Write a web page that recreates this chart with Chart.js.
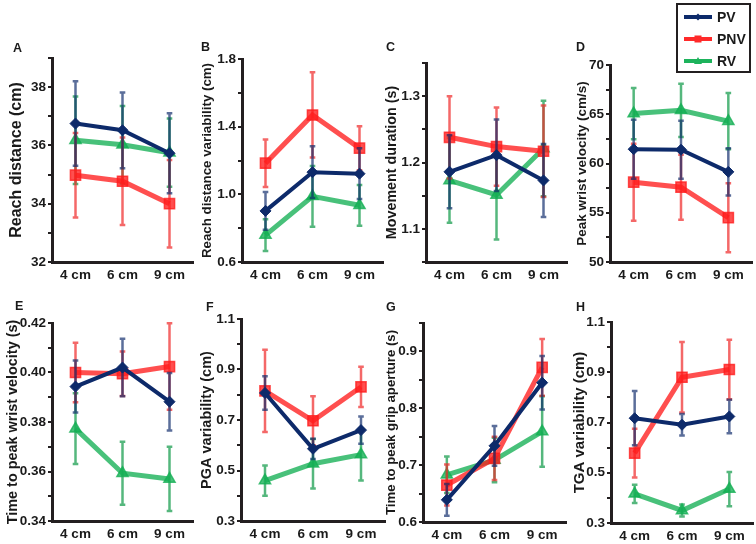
<!DOCTYPE html>
<html>
<head>
<meta charset="utf-8">
<script src="https://cdn.jsdelivr.net/npm/chart.js@4"></script>
<style>
  body { margin: 0; background: #fff; }
  #wrap { position: relative; width: 756px; height: 544px; overflow: hidden; font-family: "Liberation Sans", Arial, sans-serif; color: #1a1a1a; }
  .letter { position: absolute; font-weight: bold; font-size: 12.5px; line-height: 1; }
  #legend { position: absolute; left: 676px; top: 3px; width: 71px; height: 66px; border: 2.5px solid #231f20; }
  .row { position: absolute; left: 6px; height: 14px; display: flex; align-items: center; }
  .row span { font-weight: bold; font-size: 14px; margin-left: 5px; }
</style>
</head>
<body>
<div id="wrap"></div>
<script>
const categories = ['4 cm', '6 cm', '9 cm'];

// A: reach distance
const reachPV = [36.75, 36.52, 35.73];
const reachPVErr = [1.45, 1.3, 1.37];
const reachPNV = [34.98, 34.77, 34.0];
const reachPNVErr = [1.45, 1.5, 1.5];
const reachRV = [36.18, 36.02, 35.75];
const reachRVErr = [1.5, 1.33, 1.17];
const reachTicks = ['32', '34', '36', '38'];

// B: reach distance variability
const reachVarPV = [0.902, 1.131, 1.122];
const reachVarPVErr = [0.112, 0.153, 0.15];
const reachVarPNV = [1.184, 1.469, 1.273];
const reachVarPNVErr = [0.14, 0.252, 0.13];
const reachVarRV = [0.759, 0.988, 0.935];
const reachVarRVErr = [0.094, 0.18, 0.12];
const reachVarTicks = ['0.6', '1.0', '1.4', '1.8'];

// C: movement duration
const durPV = [1.186, 1.211, 1.173];
const durPVErr = [0.055, 0.054, 0.055];
const durPNV = [1.238, 1.224, 1.217];
const durPNVErr = [0.062, 0.059, 0.069];
const durRV = [1.173, 1.151, 1.221];
const durRVErr = [0.064, 0.067, 0.072];
const durTicks = ['1.1', '1.2', '1.3'];

// D: peak wrist velocity
const velPV = [61.45, 61.4, 59.15];
const velPVErr = [3.0, 2.95, 2.4];
const velPNV = [58.1, 57.6, 54.5];
const velPNVErr = [3.9, 3.3, 3.5];
const velRV = [65.07, 65.4, 64.3];
const velRVErr = [2.6, 2.7, 2.85];
const velTicks = ['50', '55', '60', '65', '70'];

// E: time to peak wrist velocity
const tpvPV = [0.3943, 0.402, 0.3882];
const tpvPVErr = [0.0105, 0.0116, 0.0116];
const tpvPNV = [0.400, 0.3995, 0.4024];
const tpvPNVErr = [0.012, 0.009, 0.0175];
const tpvRV = [0.3773, 0.3593, 0.357];
const tpvRVErr = [0.0143, 0.0127, 0.013];
const tpvTicks = ['0.34', '0.36', '0.38', '0.40', '0.42'];

// F: PGA variability
const pgaPV = [0.807, 0.586, 0.66];
const pgaPVErr = [0.066, 0.04, 0.054];
const pgaPNV = [0.815, 0.697, 0.831];
const pgaPNVErr = [0.163, 0.097, 0.08];
const pgaRV = [0.46, 0.527, 0.563];
const pgaRVErr = [0.06, 0.098, 0.103];
const pgaTicks = ['0.3', '0.5', '0.7', '0.9', '1.1'];

// G: time to peak grip aperture
const tpgPV = [0.639, 0.734, 0.845];
const tpgPVErr = [0.028, 0.035, 0.047];
const tpgPNV = [0.665, 0.712, 0.872];
const tpgPNVErr = [0.036, 0.038, 0.05];
const tpgRV = [0.683, 0.709, 0.759];
const tpgRVErr = [0.032, 0.039, 0.062];
const tpgTicks = ['0.6', '0.7', '0.8', '0.9'];

// H: TGA variability
const tgaPV = [0.717, 0.691, 0.724];
const tgaPVErr = [0.108, 0.043, 0.067];
const tgaPNV = [0.578, 0.880, 0.911];
const tgaPNVErr = [0.097, 0.14, 0.118];
const tgaRV = [0.416, 0.35, 0.435];
const tgaRVErr = [0.036, 0.024, 0.068];
const tgaTicks = ['0.3', '0.5', '0.7', '0.9', '1.1'];

const FONT = '"Liberation Sans", Arial, sans-serif';
const AXIS = '#231f20';
const TEXT = '#1a1a1a';

const PV_COL = '#0d2a6a';
const PNV_COL = 'rgba(255,30,30,0.78)';
const RV_COL = 'rgba(20,175,85,0.78)';

Chart.defaults.font.family = FONT;

// draws each dataset's error bars just before its line
const errorBars = {
  id: 'errorBars',
  beforeDatasetDraw(chart, args) {
    const ds = chart.data.datasets[args.index];
    if (!ds.errors) return;
    const y = chart.scales.y;
    const ctx = chart.ctx;
    ctx.save();
    ctx.strokeStyle = ds.errorColor;
    ctx.lineWidth = 2.5;
    args.meta.data.forEach((pt, i) => {
      const top = y.getPixelForValue(ds.data[i] + ds.errors[i]);
      const bot = y.getPixelForValue(ds.data[i] - ds.errors[i]);
      ctx.beginPath();
      ctx.moveTo(pt.x, top); ctx.lineTo(pt.x, bot);
      ctx.moveTo(pt.x - 2.8, top); ctx.lineTo(pt.x + 2.8, top);
      ctx.moveTo(pt.x - 2.8, bot); ctx.lineTo(pt.x + 2.8, bot);
      ctx.stroke();
    });
    ctx.restore();
  }
};

const panels = [
  { id: 'A', title: 'Reach distance (cm)', tSize: 16, tPad: 7.4,
    pv: reachPV, pvErr: reachPVErr, pnv: reachPNV, pnvErr: reachPNVErr, rv: reachRV, rvErr: reachRVErr,
    ticks: reachTicks, min: 32, max: 39, step: 1,
    x0: 0, y0: 30, y1: 290, l: 52, t: 58, r: 193, b: 262, lx: 13, ly: 42 },
  { id: 'B', title: 'Reach distance variability (cm)', tSize: 13.3, tPad: 9,
    pv: reachVarPV, pvErr: reachVarPVErr, pnv: reachVarPNV, pnvErr: reachVarPNVErr, rv: reachVarRV, rvErr: reachVarRVErr,
    ticks: reachVarTicks, min: 0.6, max: 1.8, step: 0.2,
    x0: 190, y0: 30, y1: 290, l: 242, t: 59, r: 383, b: 262, lx: 201, ly: 41 },
  { id: 'C', title: 'Movement duration (s)', tSize: 14.3, tPad: 9.4,
    pv: durPV, pvErr: durPVErr, pnv: durPNV, pnvErr: durPNVErr, rv: durRV, rvErr: durRVErr,
    ticks: durTicks, min: 1.05, max: 1.35, step: 0.05,
    x0: 374, y0: 30, y1: 290, l: 426, t: 63, r: 567, b: 262, lx: 386, ly: 41 },
  { id: 'D', title: 'Peak wrist velocity (cm/s)', tSize: 13.5, tPad: 15.9,
    pv: velPV, pvErr: velPVErr, pnv: velPNV, pnvErr: velPNVErr, rv: velRV, rvErr: velRVErr,
    ticks: velTicks, min: 50, max: 70, step: 2.5,
    x0: 558, y0: 30, y1: 290, l: 610, t: 65, r: 752, b: 262, lx: 576, ly: 41 },
  { id: 'E', title: 'Time to peak wrist velocity (s)', tSize: 14.4, tPad: 4.4,
    pv: tpvPV, pvErr: tpvPVErr, pnv: tpvPNV, pnvErr: tpvPNVErr, rv: tpvRV, rvErr: tpvRVErr,
    ticks: tpvTicks, min: 0.34, max: 0.42, step: 0.01,
    x0: 0, y0: 290, y1: 544, l: 52, t: 323, r: 193, b: 521, lx: 15, ly: 300 },
  { id: 'F', title: 'PGA variability (cm)', tSize: 14.5, tPad: 9.3,
    pv: pgaPV, pvErr: pgaPVErr, pnv: pgaPNV, pnvErr: pgaPNVErr, rv: pgaRV, rvErr: pgaRVErr,
    ticks: pgaTicks, min: 0.3, max: 1.1, step: 0.1,
    x0: 189, y0: 290, y1: 544, l: 241, t: 319, r: 385, b: 521, lx: 206, ly: 301 },
  { id: 'G', title: 'Time to peak grip aperture (s)', tSize: 13.2, tPad: 12.8,
    pv: tpgPV, pvErr: tpgPVErr, pnv: tpgPNV, pnvErr: tpgPNVErr, rv: tpgRV, rvErr: tpgRVErr,
    ticks: tpgTicks, min: 0.6, max: 0.95, step: 0.05,
    x0: 371, y0: 290, y1: 544, l: 423, t: 323, r: 566, b: 522, lx: 386, ly: 301 },
  { id: 'H', title: 'TGA variability (cm)', tSize: 15, tPad: 12,
    pv: tgaPV, pvErr: tgaPVErr, pnv: tgaPNV, pnvErr: tgaPNVErr, rv: tgaRV, rvErr: tgaRVErr,
    ticks: tgaTicks, min: 0.3, max: 1.1, step: 0.1,
    x0: 559, y0: 290, y1: 544, l: 611, t: 322, r: 753, b: 523, lx: 576, ly: 301 }
];

const wrap = document.getElementById('wrap');

function makePanel(p) {
  const w = p.r + 20 - p.x0;
  const h = p.y1 - p.y0;
  const div = document.createElement('div');
  div.style.cssText = `position:absolute;left:${p.x0}px;top:${p.y0}px;width:${w}px;height:${h}px;`;
  const cv = document.createElement('canvas');
  cv.width = w; cv.height = h;
  div.appendChild(cv);
  wrap.appendChild(div);

  const letter = document.createElement('div');
  letter.className = 'letter';
  letter.style.left = p.lx + 'px';
  letter.style.top = p.ly + 'px';
  letter.textContent = p.id;
  wrap.appendChild(letter);

  const tickFont = { family: FONT, size: 13.5, weight: 'bold' };

  new Chart(cv, {
    type: 'line',
    data: {
      labels: categories,
      datasets: [
        { label: 'PV', data: p.pv, errors: p.pvErr, errorColor: 'rgba(13,42,106,0.68)',
          borderColor: PV_COL, backgroundColor: PV_COL, borderWidth: 4,
          pointStyle: 'rectRot', pointRadius: 5.5, pointBorderWidth: 1, clip: false },
        { label: 'PNV', data: p.pnv, errors: p.pnvErr, errorColor: 'rgba(240,40,40,0.7)',
          borderColor: PNV_COL, backgroundColor: PNV_COL, borderWidth: 5,
          pointStyle: 'rect', pointRadius: 7.2, pointBorderWidth: 1.5, clip: false },
        { label: 'RV', data: p.rv, errors: p.rvErr, errorColor: 'rgba(20,155,75,0.72)',
          borderColor: RV_COL, backgroundColor: RV_COL, borderWidth: 5,
          pointStyle: 'triangle', pointRadius: 6.5, pointBorderWidth: 1.5, clip: false }
      ]
    },
    options: {
      responsive: false,
      animation: false,
      layout: { padding: { left: 0, top: p.t - p.y0, right: p.x0 + w - p.r, bottom: 0 } },
      plugins: { legend: { display: false }, tooltip: { enabled: false } },
      scales: {
        x: {
          type: 'category',
          offset: true,
          grid: { display: false, drawTicks: false },
          border: { display: true, width: 3, color: AXIS },
          ticks: { color: TEXT, font: tickFont, padding: 5, maxRotation: 0, autoSkip: false },
          afterFit: (s) => { s.height = p.y1 - p.b; }
        },
        y: {
          type: 'linear',
          min: p.min,
          max: p.max,
          afterBuildTicks: (s) => {
            const list = [];
            for (let v = p.min; v <= p.max + 1e-9; v += p.step) list.push({ value: +v.toFixed(6) });
            s.ticks = list;
          },
          grid: { display: true, drawOnChartArea: false, drawTicks: true, tickLength: 4,
                  tickWidth: 2, tickColor: AXIS, lineWidth: 2, color: AXIS },
          border: { display: true, width: 3, color: AXIS },
          ticks: {
            color: TEXT, font: tickFont, padding: 2, autoSkip: false,
            callback: (v) => {
              const hit = p.ticks.find(t => Math.abs(parseFloat(t) - v) < 1e-6);
              return hit || '';
            }
          },
          title: {
            display: true, text: p.title, color: TEXT,
            font: { family: FONT, size: p.tSize, weight: 'bold' },
            padding: { top: p.tPad, bottom: 0 }
          },
          afterFit: (s) => { s.width = p.l - p.x0; }
        }
      }
    },
    plugins: [errorBars]
  });
}

panels.forEach(makePanel);

// legend box
const legendItems = [
  { name: 'PV', color: '#0d2a6a', marker: 'diamond' },
  { name: 'PNV', color: '#ff2a2a', marker: 'square' },
  { name: 'RV', color: '#1db35c', marker: 'triangle' }
];
const legend = document.createElement('div');
legend.id = 'legend';
legendItems.forEach((it, i) => {
  const row = document.createElement('div');
  row.className = 'row';
  row.style.top = (5 + i * 22) + 'px';
  let mk;
  if (it.marker === 'diamond') mk = `<polygon points="14,3.5 17.5,7 14,10.5 10.5,7" fill="${it.color}"/>`;
  else if (it.marker === 'square') mk = `<rect x="10.5" y="3.5" width="7" height="7" fill="${it.color}"/>`;
  else mk = `<polygon points="14,3 18,10 10,10" fill="${it.color}"/>`;
  row.innerHTML = `<svg width="28" height="14"><line x1="0" y1="7" x2="28" y2="7" stroke="${it.color}" stroke-width="4"/>${mk}</svg><span>${it.name}</span>`;
  legend.appendChild(row);
});
wrap.appendChild(legend);
</script>
</body>
</html>
